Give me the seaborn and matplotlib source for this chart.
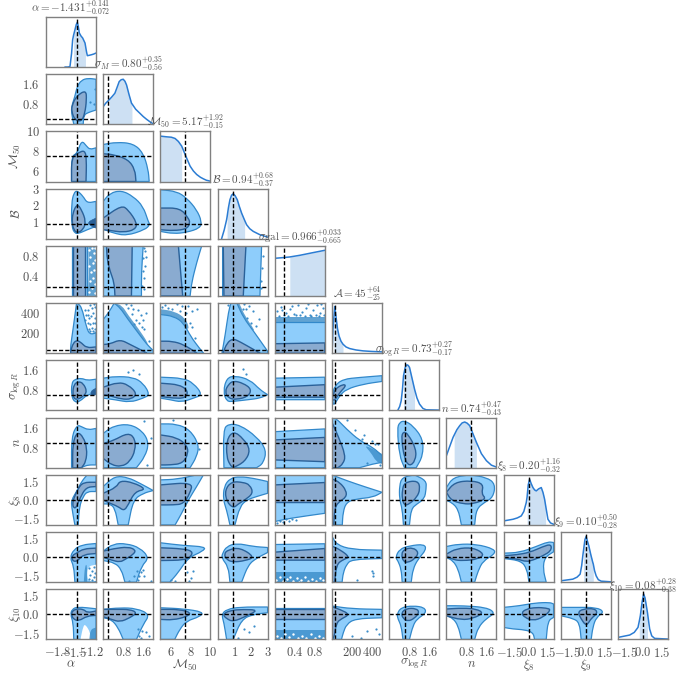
import numpy as np
import pandas as pd
import matplotlib
matplotlib.use('Agg')
import matplotlib.pyplot as plt
from matplotlib.path import Path
from matplotlib.patches import PathPatch
import seaborn as sns

sns.set_style('white')
plt.rcParams['mathtext.fontset'] = 'cm'
plt.rcParams['font.family'] = ['DejaVu Serif']

# parameter names and ranges
labels = [r'\alpha', r'\sigma_M', r'\mathcal{M}_{50}', r'\mathcal{B}', r'\sigma{\rm gal}', r'\mathcal{A}',
          r'\sigma_{\log R}', r'n', r'\xi_8', r'\xi_9', r'\xi_{10}']
results = ['-1.431^{+0.141}_{-0.072}', '0.80^{+0.35}_{-0.56}', '5.17^{+1.92}_{-0.15}', '0.94^{+0.68}_{-0.37}',
           '0.966^{+0.033}_{-0.665}', '45^{+64}_{-25}', '0.73^{+0.27}_{-0.17}', '0.74^{+0.47}_{-0.43}',
           '0.20^{+1.16}_{-0.32}', '0.10^{+0.50}_{-0.28}', '0.08^{+0.28}_{-0.38}']
lims = [(-2.0, -1.1), (0, 2), (5, 10), (0, 3), (0, 1), (0, 500), (0, 2), (0, 2), (-2, 2), (-2, 2), (-2, 2)]
truths = [-1.44, 0.2, 7.5, 0.9, 0.18, 28, 0.63, 1.0, 0.0, 0.0, 0.0]
xticks = [[-1.8, -1.5, -1.2], [0.8, 1.6], [6, 8, 10], [1, 2, 3], [0.4, 0.8], [200, 400], [0.8, 1.6], [0.8, 1.6],
          [-1.5, 0, 1.5], [-1.5, 0, 1.5], [-1.5, 0, 1.5]]
xticklabels = [['$-1.8$', '$-1.5$', '$-1.2$'], ['$0.8$', '$1.6$'], ['$6$', '$8$', '$10$'], ['$1$', '$2$', '$3$'],
               ['$0.4$', '$0.8$'], ['$200$', '$400$'], ['$0.8$', '$1.6$'], ['$0.8$', '$1.6$'],
               ['$-1.5$', '$0.0$', '$1.5$'], ['$-1.5$', '$0.0$', '$1.5$'], ['$-1.5$', '$0.0$', '$1.5$']]

# 1d posteriors
post_x_0 = [-1.66, -1.60, -1.568, -1.54, -1.52, -1.503, -1.478, -1.455, -1.436, -1.42, -1.40, -1.37, -1.34, -1.298, -1.29, -1.27, -1.256, -1.22, -1.178, -1.14, -1.10]
post_y_0 = [0, 0, 0.013, 0.27, 0.547, 0.64, 0.747, 0.85, 0.893, 0.82, 0.68, 0.62, 0.58, 0.48, 0.43, 0.3, 0.227, 0.235, 0.247, 0.26, 0.28]
post_x_1 = [0, 0.1, 0.24, 0.35, 0.467, 0.55, 0.64, 0.72, 0.8, 0.87, 0.933, 1.03, 1.133, 1.15, 1.3, 1.467, 1.6, 1.733, 1.87, 2.0]
post_y_1 = [0.353, 0.42, 0.49, 0.55, 0.62, 0.73, 0.853, 0.89, 0.9, 0.86, 0.787, 0.6, 0.42, 0.41, 0.3, 0.22, 0.155, 0.1, 0.05, 0.007]
post_x_2 = [5.0, 5.63, 6.1, 6.47, 6.8, 7.13, 7.47, 7.97, 8.3, 8.63, 9.0, 9.3, 9.6, 10]
post_y_2 = [0.907, 0.893, 0.885, 0.86, 0.80, 0.707, 0.54, 0.307, 0.21, 0.14, 0.085, 0.053, 0.025, 0.007]
post_x_3 = [0.24, 0.4, 0.54, 0.57, 0.65, 0.74, 0.84, 0.94, 1.05, 1.18, 1.3, 1.44, 1.62, 1.74, 1.93, 2.14, 2.54, 3.0]
post_y_3 = [0, 0.18, 0.38, 0.44, 0.62, 0.78, 0.87, 0.9, 0.86, 0.78, 0.65, 0.513, 0.37, 0.28, 0.2, 0.147, 0.08, 0.033]
post_x_4 = [0, 0.167, 0.3, 0.5, 0.767, 1.0]
post_y_4 = [0.753, 0.767, 0.78, 0.813, 0.867, 0.913]
post_x_5 = [0, 5, 10, 20, 27, 34, 43, 55, 70, 90, 110, 140, 177, 240, 310, 400, 500]
post_y_5 = [0, 0.2, 0.48, 0.75, 0.933, 0.83, 0.68, 0.49, 0.347, 0.24, 0.18, 0.125, 0.093, 0.065, 0.047, 0.035, 0.027]
post_x_6 = [0.347, 0.42, 0.48, 0.53, 0.573, 0.64, 0.707, 0.76, 0.813, 0.91, 1.013, 1.11, 1.213, 1.35, 1.48, 2.0]
post_y_6 = [0.007, 0.08, 0.193, 0.42, 0.693, 0.86, 0.913, 0.9, 0.86, 0.65, 0.427, 0.25, 0.127, 0.04, 0.013, 0.007]
post_x_7 = [0, 0.13, 0.267, 0.31, 0.42, 0.533, 0.63, 0.733, 0.83, 0.933, 1.06, 1.2, 1.4, 1.6, 1.8, 2.0]
post_y_7 = [0.24, 0.42, 0.607, 0.65, 0.76, 0.84, 0.895, 0.913, 0.89, 0.84, 0.68, 0.507, 0.28, 0.14, 0.05, 0.013]
post_x_8 = [-2, -1.25, -0.9, -0.587, -0.38, -0.187, -0.12, -0.03, 0.08, 0.2, 0.347, 0.48, 0.613, 0.8, 1.013, 1.15, 1.28, 1.36, 1.547, 1.75, 2.0]
post_y_8 = [0.08, 0.113, 0.14, 0.18, 0.27, 0.447, 0.56, 0.8, 0.913, 0.83, 0.747, 0.7, 0.68, 0.72, 0.747, 0.65, 0.513, 0.39, 0.113, 0.04, 0.013]
post_x_9 = [-2, -1.04, -0.7, -0.453, -0.33, -0.24, -0.18, -0.07, 0.027, 0.12, 0.24, 0.4, 0.56, 0.60, 0.7, 0.827, 1.0, 1.227, 2]
post_y_9 = [0.027, 0.06, 0.1, 0.16, 0.33, 0.527, 0.64, 0.85, 0.913, 0.83, 0.727, 0.55, 0.393, 0.36, 0.23, 0.127, 0.05, 0.02, 0.007]
post_x_10 = [-2, -1.067, -0.7, -0.4, -0.30, -0.213, -0.07, 0.053, 0.16, 0.267, 0.36, 0.533, 0.7, 0.933, 2]
post_y_10 = [0.04, 0.087, 0.14, 0.24, 0.36, 0.473, 0.75, 0.907, 0.83, 0.673, 0.53, 0.207, 0.07, 0.02, 0.007]
post_lo = [-1.503, 0.24, 5.0, 0.57, 0.30, 20, 0.573, 0.31, -0.12, -0.18, -0.30]
post_hi = [-1.29, 1.15, 7.13, 1.62, 1.0, 110, 1.013, 1.2, 1.36, 0.60, 0.36]

# 95% and 68% contours, outer_<row>_<col> and inner_<row>_<col>
outer_1_0 = [(-1.50,0),(-1.54,.44),(-1.54,.71),(-1.48,1.11),(-1.44,1.51),(-1.36,1.77),(-1.24,1.84),(-1.1,1.8),(-1.1,.57),(-1.24,.47),(-1.32,.37),(-1.33,0)]
inner_1_0 = [(-1.48,.17),(-1.54,.51),(-1.53,.77),(-1.45,1.13),(-1.28,1.37),(-1.27,.97),(-1.3,.44),(-1.36,.11)]

outer_2_0 = [(-1.54,5),(-1.54,7.53),(-1.44,7.8),(-1.36,9.13),(-1.27,8.53),(-1.21,8.2),(-1.1,8.37),(-1.1,5)]
inner_2_0 = [(-1.54,5),(-1.54,7.4),(-1.42,7.87),(-1.3,8.13),(-1.27,7.2),(-1.28,5)]
outer_2_1 = [(0,5),(0,8.7),(.53,8.93),(1.2,8.8),(1.6,7.87),(1.8,6.2),(1.84,5)]
inner_2_1 = [(0,5),(0,7.77),(.4,7.7),(1,7.2),(1.27,6.2),(1.31,5)]

outer_3_0 = [(-1.54,.74),(-1.54,2.14),(-1.5,2.74),(-1.44,2.9),(-1.33,2.54),(-1.26,2.14),(-1.1,2.24),(-1.1,.74),(-1.26,.54),(-1.39,.34),(-1.48,.3)]
inner_3_0 = [(-1.53,.94),(-1.52,1.54),(-1.44,2.1),(-1.36,1.74),(-1.28,1.04),(-1.33,.54),(-1.44,.34),(-1.5,.54)]
outer_3_1 = [(0,.58),(0,2.24),(.27,2.74),(.73,2.9),(1.2,2.54),(1.6,1.94),(1.8,1.04),(1.87,.84),(1.67,.54),(.93,.18),(.4,.34)]
inner_3_1 = [(0,.54),(0,1.24),(.73,2.0),(1,1.74),(1.36,.94),(1.27,.54),(.8,.38),(.27,.5)]
outer_3_2 = [(5,.44),(5,2.94),(6.63,2.84),(7.63,2.44),(8.63,1.74),(9.13,1.04),(8.97,.64),(7.63,.38),(6.3,.3)]
inner_3_2 = [(5,.54),(5,1.84),(6.97,1.84),(7.8,1.24),(7.97,.94),(7.63,.58),(6.3,.48)]

outer_4_0 = [(-1.54,0),(-1.54,1),(-1.26,1),(-1.26,0)]
inner_4_0 = [(-1.52,0),(-1.52,1),(-1.3,1),(-1.3,0)]
outer_4_1 = [(0,0),(0,1),(1.6,1),(1.53,.47),(1.53,0)]
inner_4_1 = [(.47,0),(.44,.27),(.27,.5),(.16,.73),(.13,1),(1.16,1),(1.13,0)]
outer_4_2 = [(5,0),(5,1),(9.13,1),(8.63,.67),(8.13,.27),(7.97,0)]
inner_4_2 = [(5,0),(5,1),(6.8,1),(6.97,.6),(7.23,0)]
outer_4_3 = [(.3,0),(.3,1),(2.64,1),(2.54,0)]
inner_4_3 = [(.38,0),(.34,1),(1.7,1),(1.54,0)]

outer_5_0 = [(-1.57,20),(-1.51,253),(-1.45,500),(-1.36,470),(-1.27,253),(-1.21,187),(-1.1,203),(-1.1,0),(-1.54,0)]
inner_5_0 = [(-1.556,20),(-1.51,103),(-1.44,130),(-1.36,103),(-1.27,53),(-1.1,63),(-1.1,0),(-1.556,0)]
outer_5_1 = [(0,0),(0,337),(.21,403),(.44,500),(.68,453),(.95,353),(1.35,220),(1.75,87),(2,27),(2,0)]
inner_5_1 = [(0,0),(0,87),(.28,93),(.68,137),(1.08,87),(1.61,20),(1.75,0)]
outer_5_2 = [(5,0),(5,387),(6.33,370),(7.33,303),(8,170),(9,37),(9.33,0)]
inner_5_2 = [(5,0),(5,120),(6.17,120),(7.33,87),(8.67,0)]
outer_5_3 = [(.26,0),(.46,187),(.66,420),(.8,500),(1.16,500),(1.56,353),(2.16,220),(3,20),(3,0)]
inner_5_3 = [(.32,0),(.56,103),(.92,147),(1.36,113),(2.16,37),(2.56,0)]
outer_5_4 = [(0,0),(0,310),(1,310),(1,0)]
inner_5_4 = [(0,0),(0,95),(1,103),(1,0)]

outer_6_0 = [(-1.54,.56),(-1.54,1.09),(-1.48,1.25),(-1.36,1.29),(-1.26,1.2),(-1.1,1.25),(-1.1,.69),(-1.26,.63),(-1.39,.36),(-1.48,.32)]
inner_6_0 = [(-1.52,.69),(-1.5,1.03),(-1.42,1.16),(-1.33,1.09),(-1.26,.76),(-1.33,.56),(-1.44,.43),(-1.5,.49)]
outer_6_1 = [(0,.49),(0,1.29),(.47,1.36),(1.2,1.33),(1.6,1.09),(1.87,.63),(1.6,.49),(1.07,.32),(.47,.43)]
inner_6_1 = [(0,.63),(0,.93),(.6,1.13),(1,1.03),(1.36,.67),(1.13,.45),(.73,.45),(.27,.59)]
outer_6_2 = [(5,.49),(5,1.33),(7.3,1.29),(8.3,1.09),(9.23,.63),(8.3,.49),(7.13,.33),(5.97,.43)]
inner_6_2 = [(5,.56),(5,1.09),(6.97,1.03),(7.8,.76),(7.47,.49),(6.3,.49)]
outer_6_3 = [(.34,.76),(.54,1.29),(1.04,1.39),(1.94,1.23),(2.54,.83),(3,.63),(2.54,.49),(1.84,.43),(.94,.36),(.54,.36)]
inner_6_3 = [(.44,.76),(.64,1.03),(.94,1.19),(1.54,1.09),(2.04,.85),(1.84,.56),(1.14,.43),(.64,.49)]
outer_6_4 = [(0,.43),(0,1.29),(1,1.33),(1,.43)]
inner_6_4 = [(0,.53),(0,.93),(1,1.03),(1,.53)]
outer_6_5 = [(10,.25),(0,.59),(27,.99),(110,1.25),(277,1.32),(500,1.39),(500,1.16),(310,1.05),(143,.85),(77,.59),(27,.25)]
inner_6_5 = [(0,.45),(27,.85),(110,1.05),(143,.99),(77,.72),(27,.39)]

outer_7_0 = [(-1.54,0),(-1.54,1.24),(-1.44,1.71),(-1.36,1.64),(-1.24,1.51),(-1.1,1.57),(-1.1,.11),(-1.24,.11),(-1.33,.04),(-1.36,0)]
inner_7_0 = [(-1.52,0),(-1.52,.97),(-1.44,1.44),(-1.33,1.24),(-1.26,.77),(-1.28,.24),(-1.36,0)]
outer_7_1 = [(0,0),(0,1.37),(.4,1.67),(1.07,1.75),(1.6,1.44),(1.83,.97),(1.67,.44),(1.33,0)]
inner_7_1 = [(0,.37),(0,.97),(.4,1.08),(1,1.4),(1.27,1.17),(1.29,.71),(1.07,.24),(.73,.04),(.33,.11)]
outer_7_2 = [(5,0),(5,1.75),(6.63,1.75),(7.97,1.51),(8.87,.91),(8.63,.44),(7.97,0)]
inner_7_2 = [(5,.11),(5,1.31),(6.63,1.21),(7.63,.91),(7.8,.57),(7.23,.17),(5.97,.11)]
outer_7_3 = [(.38,0),(.34,1.51),(.64,1.75),(1.34,1.71),(2.34,1.24),(2.94,.71),(2.74,.17),(2.34,0)]
inner_7_3 = [(.54,.44),(.54,1.11),(.94,1.47),(1.54,1.17),(1.98,.71),(1.64,.24),(.94,0),(.74,.11)]
outer_7_4 = [(0,0),(0,1.44),(1,1.55),(1,0)]
inner_7_4 = [(0,.31),(0,1.11),(1,1.21),(1,.24)]
outer_7_5 = [(0,2),(43,1.97),(143,1.55),(277,1.08),(410,.81),(500,.48),(500,.21),(410,.15),(277,0),(0,0)]
inner_7_5 = [(0,1.81),(60,1.28),(137,.48),(110,.15),(60,0),(0,0)]
outer_7_6 = [(.32,1.55),(.41,1.81),(.61,1.88),(.95,1.68),(1.35,1.15),(1.35,.48),(1.08,0),(.61,0),(.41,.48)]
inner_7_6 = [(.48,1.21),(.57,1.45),(.75,1.35),(1.08,.75),(1.05,.28),(.81,.05),(.61,.35)]

outer_8_0 = [(-1.48,-2),(-1.54,-.53),(-1.54,0),(-1.45,.67),(-1.36,1.47),(-1.26,2),(-1.1,2),(-1.1,.67),(-1.26,.67),(-1.33,.27),(-1.4,-.53),(-1.42,-2)]
inner_8_0 = [(-1.52,-.27),(-1.5,.13),(-1.42,.93),(-1.33,1.41),(-1.1,1.41),(-1.1,1.07),(-1.28,1.01),(-1.39,.13),(-1.46,-.67),(-1.51,-.59)]
outer_8_1 = [(0,1.07),(.47,1.92),(1,1.79),(1.47,1.33),(2,.75),(1.6,.53),(1.2,0),(1,-2),(.6,-2),(.47,-.67),(.27,-.32),(0,-.32)]
inner_8_1 = [(0,.53),(.53,1.01),(.67,1.55),(1.2,1.39),(1.73,.85),(1.27,.67),(1,-.4),(.83,-.88),(.6,-.53),(.2,-.21),(0,0)]
outer_8_2 = [(5,-2),(5,1.6),(6.63,1.65),(8.63,2),(9.3,2),(8.63,1.07),(7.8,0),(7.13,-1.07),(6.47,-2)]
inner_8_2 = [(5,1.2),(8.23,1.41),(7.97,.53),(7.3,-.32),(6.3,-.4),(5,-.4)]
outer_8_3 = [(.38,1.07),(.74,1.73),(1.34,1.87),(2.14,1.73),(3,1.47),(3,.53),(2.34,.27),(1.74,0),(1.34,-.53),(1.04,-2),(.74,-2),(.54,-.8),(.34,0)]
inner_8_3 = [(.44,.8),(.84,1.47),(1.54,1.41),(1.94,1.2),(2.14,.53),(1.64,0),(1.24,-.32),(.94,-.67),(.54,-.13)]
outer_8_4 = [(0,2),(1,2),(1,-1.07),(.3,-1.47),(0,-1.73)]
inner_8_4 = [(0,1.2),(1,1.39),(1,-.21),(0,-.21)]
outer_8_5 = [(0,2),(143,1.55),(343,1.01),(500,.61),(410,.21),(243,.08),(143,-.19),(110,-1),(103,-2),(0,-2)]
inner_8_5 = [(0,1.68),(77,1.41),(143,.75),(143,.21),(60,-.19),(27,-.72),(17,-2),(0,-2)]
outer_8_6 = [(.41,1.15),(.52,1.81),(1.01,2),(1.48,1.55),(1.48,.88),(1.41,.08),(1.11,-.32),(.88,-.72),(.81,-2),(.57,-2),(.52,-.72),(.41,.08)]
inner_8_6 = [(.52,.75),(.61,1.41),(1.15,1.55),(1.24,.88),(1.11,.21),(.81,-.32),(.61,-.45),(.52,.08)]
outer_8_7 = [(0,.99),(.27,1.81),(.93,2),(1.6,1.81),(1.96,1.28),(1.87,.21),(1.53,-.19),(1.2,-.72),(1.13,-2),(.6,-2),(.47,-.72),(.2,-.19),(0,-.05)]
inner_8_7 = [(0,.61),(.33,1.41),(1,1.55),(1.49,1.28),(1.4,.48),(1.6,.08),(1.07,-.32),(.67,-.32),(.2,-.05)]

outer_9_0 = [(-1.57,-.05),(-1.5,.61),(-1.35,.99),(-1.1,1.09),(-1.1,-2),(-1.48,-2),(-1.5,-.72)]
inner_9_0 = [(-1.53,.13),(-1.44,.35),(-1.32,.67),(-1.1,.72),(-1.1,.29),(-1.32,.21),(-1.41,-.19),(-1.47,-.37),(-1.53,-.24)]
outer_9_1 = [(0,.48),(.4,1.07),(.93,1.09),(1.47,.75),(1.84,-.05),(1.53,-.72),(1.33,-2),(.87,-2),(.73,-.99),(.47,-.45),(0,-.27)]
inner_9_1 = [(0,.48),(.4,.67),(1,.83),(1.31,.56),(1.2,.21),(.87,-.19),(.67,-.4),(.33,-.24),(0,0)]
outer_9_2 = [(5,1.15),(7.27,.93),(9.53,.83),(9.27,.48),(7.77,-.05),(6.77,-1.25),(5.93,-2),(5,-2)]
inner_9_2 = [(5,.75),(7.27,.67),(8.2,.48),(8.1,.08),(7.43,-.24),(5,-.27)]
outer_9_3 = [(.3,.32),(.54,.85),(1.14,1.12),(2.14,.85),(3,.77),(3,.37),(2.34,-.08),(1.84,-.61),(1.44,-2),(.74,-2),(.64,-.75),(.24,-.08)]
inner_9_3 = [(.38,.27),(.64,.59),(1.34,.77),(2.24,0),(1.64,-.29),(.94,-.4),(.54,-.21)]
outer_9_4 = [(0,1.01),(1,1.07),(1,-2),(0,-2)]
inner_9_4 = [(0,.4),(1,.69),(1,-.24),(0,-.24)]
outer_9_5 = [(0,-2),(0,1.68),(44,1.01),(196,.61),(500,.56),(500,-.11),(196,-.19),(145,-.59),(112,-1.25),(101,-2)]
inner_9_5 = [(0,.88),(78,.61),(179,0),(112,-.19),(44,-.59),(27,-2),(0,-2)]
outer_9_6 = [(.25,-.03),(.41,.64),(.81,.91),(1.41,1.04),(1.48,.59),(1.15,-.16),(.95,-.96),(.88,-2),(.52,-2),(.48,-.96),(.35,-.29)]
inner_9_6 = [(.48,.24),(.61,.64),(.95,.77),(1.19,.37),(1.01,-.16),(.75,-.43),(.57,-.37)]
outer_9_7 = [(0,.85),(.47,1.04),(1.2,1.04),(1.93,.64),(1.93,.24),(1.47,-.29),(1.27,-1.09),(1.13,-2),(.6,-2),(.47,-.96),(.27,-.29),(0,-.03)]
inner_9_7 = [(0,.24),(.4,.69),(1.07,.77),(1.53,.24),(1.27,-.16),(.67,-.29),(.27,-.21),(0,.11)]
outer_9_8 = [(-2,.32),(-.72,.37),(.61,.85),(1.55,1.23),(2,1.17),(2,.43),(1.28,-.03),(1.15,-.96),(1.41,-2),(.03,-2),(-.13,-.96),(-.59,-.29),(-2,-.11)]
inner_9_8 = [(-2,.11),(-.99,.19),(.08,.37),(1.15,.85),(1.81,1.04),(1.81,.51),(1.15,.11),(.35,-.24),(-.19,-.37),(-.85,-.16),(-2,-.03)]

outer_10_0 = [(-1.56,0),(-1.53,.4),(-1.44,.61),(-1.1,.45),(-1.1,-2),(-1.5,-2),(-1.51,-.67)]
inner_10_0 = [(-1.53,.27),(-1.44,.45),(-1.32,.4),(-1.26,.13),(-1.1,.27),(-1.1,-.08),(-1.26,-.13),(-1.41,-.53),(-1.5,-.4),(-1.54,-.08)]
outer_10_1 = [(0,.4),(.67,.53),(1.33,.48),(1.87,0),(1.6,-.8),(1.33,-2),(.8,-2),(.6,-1.07),(.33,-.4),(0,-.27)]
inner_10_1 = [(0,.4),(.53,.4),(1.07,.4),(1.36,.13),(1.07,-.27),(.67,-.61),(.33,-.4),(0,-.19)]
outer_10_2 = [(5,.53),(7.27,.45),(9.33,.19),(8.93,-.19),(7.6,-.53),(6.93,-1.2),(6.43,-2),(5,-2)]
inner_10_2 = [(5,.4),(6.93,.4),(8.1,.13),(7.6,-.19),(6.27,-.45),(5,-.4)]
outer_10_3 = [(.24,0),(.54,.4),(1.34,.59),(3,.59),(3,.13),(2.14,0),(1.44,-.4),(.94,-2),(.54,-2),(.38,-.67)]
inner_10_3 = [(.3,0),(.74,.32),(1.54,.4),(2.44,.35),(1.74,-.13),(.94,-.59),(.54,-.35)]
outer_10_4 = [(0,.53),(1,.53),(1,-2),(0,-2)]
inner_10_4 = [(0,.4),(1,.4),(1,-.35),(0,-.35)]
outer_10_5 = [(0,.67),(196,.45),(500,.4),(500,-.27),(230,-.35),(145,-.8),(112,-1.47),(95,-2),(0,-2)]
inner_10_5 = [(0,.61),(78,.4),(179,0),(95,-.35),(44,-.67),(20,-1.87),(0,-2)]
outer_10_6 = [(.31,.03),(.48,.56),(.95,.69),(1.41,.56),(1.48,.11),(1.11,-.37),(.95,-.91),(.81,-2),(.55,-2),(.48,-.91),(.35,-.37)]
inner_10_6 = [(.48,.11),(.68,.48),(1.08,.48),(1.21,.16),(1.01,-.32),(.75,-.56),(.55,-.32)]
outer_10_7 = [(0,.69),(.67,.69),(1.6,.56),(1.96,.11),(1.6,-.32),(1.27,-1.04),(1.13,-2),(.6,-2),(.47,-.91),(.27,-.32),(0,-.11)]
inner_10_7 = [(0,.43),(.67,.51),(1.2,.43),(1.49,.11),(1.07,-.32),(.6,-.45),(0,-.11)]
outer_10_8 = [(-2,.56),(-.72,.69),(.48,.91),(1.68,.96),(2,.83),(2,-.24),(1.55,-.51),(1.41,-2),(.48,-2),(.35,-1.44),(-.32,-1.23),(-1.25,-1.17),(-2,-1.04)]
inner_10_8 = [(-.59,.11),(-.19,.43),(.61,.56),(1.41,.51),(1.81,.37),(1.15,-.24),(.35,-.51),(-.32,-.24)]
outer_10_9 = [(-2,.56),(-.77,.56),(.83,.56),(1.49,.21),(.83,-.24),(.56,-1.04),(.43,-2),(-.37,-2),(-.51,-.64),(-1.04,-.32),(-2,-.11)]
inner_10_9 = [(-.64,.16),(-.24,.43),(.69,.48),(.96,.11),(.43,-.32),(.16,-.77),(-.03,-.85),(-.37,-.37)]

# extra small islands of the 68% contour
island_3_0 = [(-1.26,.98),(-1.1,1.24),(-1.1,.64),(-1.18,.74)]
island_6_0 = [(-1.2,.76),(-1.1,.89),(-1.1,.63),(-1.18,.59)]

# white gaps inside the outer contour
gap_9_0 = [(-1.26,-.75),(-1.1,-.6),(-1.1,-1.9),(-1.26,-1.95)]
gap_10_0 = [(-1.38,-2),(-1.33,-.93),(-1.29,-.8),(-1.2,-1.47),(-1.2,-2)]

# regions crowded with samples
crowd_4_0 = [(-1.25,0),(-1.23,.4),(-1.24,1),(-1.1,1),(-1.1,0)]
crowd_5_2 = [(5,387),(6.33,370),(7.33,303),(7.6,240),(7.9,250),(7.5,350),(6.4,420),(5,440)]
crowd_5_4 = [(0,315),(1,315),(1,365),(0,365)]
crowd_5_1 = [(.44,500),(.68,453),(.95,353),(1.35,220),(1.75,87),(1.8,100),(1.4,250),(1,380),(.75,480)]
crowd_5_3 = [(.8,500),(1.16,500),(1.56,353),(2.16,220),(2.22,232),(1.65,370),(1.3,500)]
crowd_7_5 = [(320,.9),(410,.75),(500,.55),(500,.15),(440,.25),(390,.6)]
crowd_9_0 = [(-1.3,-.7),(-1.26,-.55),(-1.26,-2),(-1.32,-2)]
crowd_9_4 = [(0,-1.15),(1,-1.15),(1,-2),(0,-2)]
crowd_10_0 = [(-1.2,-1.2),(-1.1,-1.05),(-1.1,-2),(-1.22,-2)]
crowd_10_4 = [(0,-1.25),(1,-1.25),(1,-2),(0,-2)]

# scattered samples outside the contours
dots_1_0 = [(-1.2,.9),(-1.12,1.4),(-1.14,.8)]
dots_4_1 = [(1.66,.9),(1.68,.6),(1.62,.35),(1.7,.78),(1.65,.14),(1.58,.5),(1.6,.75),(1.63,.95),(1.57,.2)]
dots_4_3 = [(2.62,.3),(2.66,.55),(2.7,.8),(2.6,.15)]
dots_5_0 = [(-1.25,430),(-1.2,480),(-1.15,400),(-1.12,460),(-1.22,350),(-1.15,300),(-1.18,250),(-1.12,240),(-1.2,290),(-1.3,430),(-1.14,490),(-1.25,300),(-1.12,350),(-1.28,380),(-1.17,450),(-1.23,240),(-1.16,220),(-1.12,210),(-1.2,225),(-1.3,330),(-1.24,380),(-1.19,370),(-1.11,300)]
dots_5_1 = [(1.2,440),(1.5,380),(1.7,400),(1.6,330),(1.4,430),(1.45,300),(1.65,240),(1.1,480),(1,450),(1.85,120),(.9,490),(1.15,390),(1.3,330),(1.55,260),(1.25,290)]
dots_5_2 = [(8.2,420),(7.8,470),(8.7,440),(5.5,480),(6.7,490),(8.5,150),(7.2,470),(5.2,460),(5.8,455),(6.2,440),(7,420),(7.6,400),(8,300),(8.2,260)]
dots_5_3 = [(1.7,440),(2.1,420),(2.5,340),(1.9,470),(1.6,490),(.65,480),(1.75,350),(2,300),(2.3,270),(1.5,440)]
dots_5_4 = [(.05,420),(.12,460),(.22,400),(.3,440),(.38,390),(.46,480),(.55,410),(.62,450),(.7,385),(.76,430),(.84,480),(.9,400),(.96,450),(.18,385),(.5,385),(.82,385),(.08,375),(.27,372),(.42,378),(.6,375),(.72,372),(.88,376),(.98,380),(.15,430),(.35,470),(.67,490),(.93,490)]
dots_6_1 = [(1.0,1.55),(1.2,1.62),(1.45,1.45)]
dots_6_3 = [(1.5,1.65),(1.7,1.45)]
dots_7_1 = [(1.9,1.2),(1.65,1.85),(1.75,.1)]
dots_7_2 = [(6.3,1.9),(8.9,.75)]
dots_7_5 = [(150,1.9),(230,1.5),(320,1.3),(400,1.05),(460,.95),(350,.2),(480,.1),(300,1.15),(430,.95)]
dots_8_4 = [(.05,-1.85),(.1,-1.65),(.16,-1.75),(.22,-1.55),(.28,-1.7),(.34,-1.5),(.42,-1.6)]
dots_9_0 = [(-1.22,-.9),(-1.17,-1.1),(-1.13,-.8),(-1.2,-1.4),(-1.14,-1.6),(-1.22,-1.75),(-1.17,-1.85),(-1.12,-1.3)]
dots_9_1 = [(1.25,-1.5),(1.35,-1.1),(1.6,-1),(1.65,-1.5),(1.9,-1.9),(1.05,-1.9),(1.4,-1.85),(1.45,-1.5),(1.5,-1.2)]
dots_9_2 = [(8.3,-1.1),(7.7,-1.2),(7.9,-1.9),(8.1,-1.7),(6.1,-1.8),(6.5,-1.9)]
dots_9_5 = [(400,-1.1),(410,-1.3),(405,-1.5),(250,-1.85)]
dots_10_1 = [(1.55,-1.3),(1.7,-1.4),(1.45,-1.7),(1.85,-1.7),(1.4,-1.2),(1.5,-1.9)]
dots_10_3 = [(1.6,-1.2),(1.9,-1.4),(1.2,-1.9),(2.2,-.9)]
dots_10_5 = [(200,-1.7),(350,-1.3),(440,-1.2),(470,-1.6),(290,-1.9)]

# white specks left in the crowded bands
specks_4_0 = [(-1.23,.08),(-1.18,.16),(-1.12,.05),(-1.21,.3),(-1.15,.35),(-1.11,.24),(-1.19,.47),(-1.13,.52),(-1.23,.6),(-1.16,.66),(-1.11,.72),(-1.2,.78),(-1.14,.85),(-1.22,.92),(-1.12,.95),(-1.17,.96)]
specks_9_4 = [(.03,-1.85),(.1,-1.6),(.16,-1.9),(.24,-1.75),(.3,-1.55),(.36,-1.9),(.44,-1.7),(.52,-1.85),(.6,-1.6),(.66,-1.9),(.74,-1.75),(.82,-1.9),(.9,-1.7),(.97,-1.85),(.2,-1.95),(.48,-1.95)]
specks_10_4 = [(.04,-1.7),(.12,-1.9),(.2,-1.6),(.28,-1.8),(.36,-1.55),(.46,-1.85),(.55,-1.7),(.62,-1.9),(.72,-1.6),(.8,-1.85),(.88,-1.7),(.96,-1.9)]

OUTER_C, INNER_C = '#8ecdfb', '#8aabd0'
OUTER_E, INNER_E = '#3288ca', '#2a6199'
DOT_C = '#3a8cc8'
GREY = '#808080'
TEXT = '#505050'
DASH = (0, (3, 1.5))


def outline(pts, xlim, ylim):
    # rounded closed path through the read outline, keeping corners on the frame sharp
    on_frame = [min(abs(x - xlim[0]), abs(x - xlim[1])) < 1e-6 or min(abs(y - ylim[0]), abs(y - ylim[1])) < 1e-6
                for x, y in pts]
    n = len(pts)
    mid = lambda a, b: ((a[0] + b[0]) / 2, (a[1] + b[1]) / 2)
    verts = [mid(pts[-1], pts[0])]
    codes = [Path.MOVETO]
    for i in range(n):
        p, q = pts[i], pts[(i + 1) % n]
        if on_frame[i]:
            verts += [p, mid(p, q)]
            codes += [Path.LINETO, Path.LINETO]
        else:
            verts += [p, mid(p, q)]
            codes += [Path.CURVE3, Path.CURVE3]
    verts.append(verts[0])
    codes.append(Path.CLOSEPOLY)
    return Path(verts, codes)


n_par = len(labels)
fig, axes = plt.subplots(n_par, n_par, figsize=(6.8, 6.73), dpi=100)
fig.subplots_adjust(left=46/680, right=668/680, top=1-17/673, bottom=1-639.4/673, wspace=0.144, hspace=0.144)
data = globals()

for r in range(n_par):
    for c in range(n_par):
        ax = axes[r, c]
        if c > r:
            ax.axis('off')
            continue
        ax.set_xlim(lims[c])
        ax.set_xticks([])
        ax.set_yticks([])
        if r == c:
            post = pd.DataFrame({'x': data[f'post_x_{c}'], 'y': data[f'post_y_{c}']})
            band = post[(post.x >= post_lo[c]) & (post.x <= post_hi[c])]
            ax.fill_between(band.x, 0, band.y, color='#cde0f3', lw=0)
            sns.lineplot(data=post, x='x', y='y', ax=ax, color='#2b7cd3', lw=1.1, sort=False, errorbar=None)
            ax.axvline(truths[c], color='k', ls=DASH, lw=1.0)
            ax.set_ylim(0, 1)
            ax.set_title(f'${labels[c]} = {results[c]}$', fontsize=8.0, color=TEXT, pad=-0.5)
        else:
            ax.set_ylim(lims[r])
            xl, yl = lims[c], lims[r]
            ax.add_patch(PathPatch(outline(data[f'outer_{r}_{c}'], xl, yl), fc=OUTER_C, ec=OUTER_E, lw=0.9))
            if f'gap_{r}_{c}' in data:
                ax.add_patch(PathPatch(outline(data[f'gap_{r}_{c}'], xl, yl), fc='white', ec='none'))
            if f'crowd_{r}_{c}' in data:
                ax.add_patch(PathPatch(outline(data[f'crowd_{r}_{c}'], xl, yl), fc=DOT_C, ec='none', alpha=0.8))
            if f'specks_{r}_{c}' in data:
                s = pd.DataFrame(data[f'specks_{r}_{c}'], columns=['x', 'y'])
                sns.scatterplot(data=s, x='x', y='y', ax=ax, color='white', s=3, lw=0)
            if f'dots_{r}_{c}' in data:
                s = pd.DataFrame(data[f'dots_{r}_{c}'], columns=['x', 'y'])
                sns.scatterplot(data=s, x='x', y='y', ax=ax, color=DOT_C, s=2.5, lw=0)
            ax.add_patch(PathPatch(outline(data[f'inner_{r}_{c}'], xl, yl), fc=INNER_C, ec=INNER_E, lw=1.0))
            if f'island_{r}_{c}' in data:
                ax.add_patch(PathPatch(outline(data[f'island_{r}_{c}'], xl, yl), fc=INNER_E, ec=INNER_E, lw=0.5))
            ax.axvline(truths[c], color='k', ls=DASH, lw=1.0)
            ax.axhline(truths[r], color='k', ls=DASH, lw=1.0)
        ax.set_xlabel('')
        ax.set_ylabel('')
        for sp in ax.spines.values():
            sp.set_color(GREY)
            sp.set_linewidth(1.0)
        ax.tick_params(length=3, width=0.8, color=GREY, labelcolor=TEXT, labelsize=9, pad=1.5)
        if r == n_par - 1:
            ax.set_xticks(xticks[c])
            ax.set_xticklabels(xticklabels[c])
            ax.set_xlabel(f'${labels[c]}$', fontsize=9, color=TEXT)
            ax.xaxis.set_label_coords(0.5, -0.36)
        if c == 0 and r > 0:
            ax.set_yticks(xticks[r])
            ax.set_yticklabels(xticklabels[r])
            ax.set_ylabel(f'${labels[r]}$', fontsize=9, color=TEXT)
            ax.yaxis.set_label_coords(-0.46, 0.5)

fig.savefig('out.png', dpi=100)
